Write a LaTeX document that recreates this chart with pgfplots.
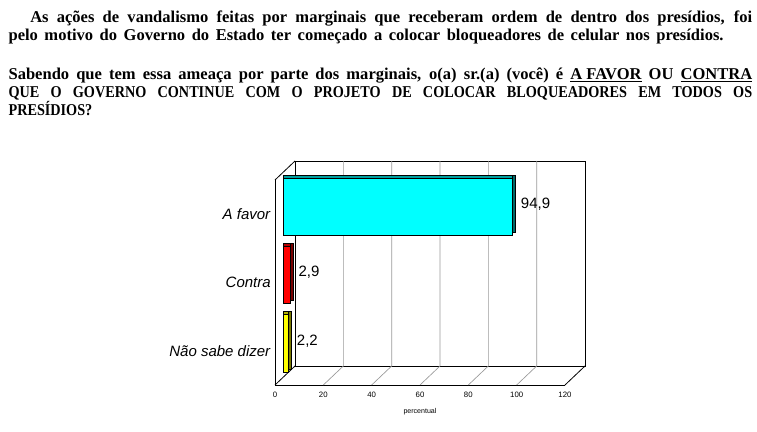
\documentclass[border=0pt]{standalone}
\usepackage{fontspec}
\setmainfont{Liberation Sans}[ItalicFont={Liberation Sans Italic}]
\newfontfamily\titlefont{Liberation Serif}
\usepackage{pgfplots}
\pgfplotsset{compat=1.18}

\definecolor{favorfront}{RGB}{0,255,255}
\definecolor{favortop}{RGB}{0,160,160}
\definecolor{favorside}{RGB}{0,105,105}
\definecolor{contrafront}{RGB}{255,0,0}
\definecolor{contratop}{RGB}{180,0,0}
\definecolor{contraside}{RGB}{120,0,0}
\definecolor{naofront}{RGB}{255,255,0}
\definecolor{naotop}{RGB}{175,175,0}
\definecolor{naoside}{RGB}{120,120,0}

% 1px = 0.75pt ; depth of the box 20px x 19px, bars sit 8px x 7.5px in
\tikzset{depth/.style={xshift=15pt, yshift=14.25pt}}

% one 3-D bar: value, category, front, top, side colour
\newcommand{\bardd}[5]{%
  \addplot[xbar, bar width=43.1pt, bar shift=0pt, fill=#5, draw=black,
    line width=0.5pt, xshift=8.25pt, yshift=7.875pt] coordinates {(#1,#2)};
  \addplot[xbar, bar width=43.1pt, bar shift=0pt, fill=#4, draw=black,
    line width=0.5pt, xshift=6pt, yshift=7.875pt] coordinates {(#1,#2)};
  \addplot[xbar, bar width=43.1pt, bar shift=0pt, fill=#3, draw=black,
    line width=0.5pt, xshift=6pt, yshift=5.625pt,
    point meta=x,
    nodes near coords={\pgfmathprintnumber[fixed, precision=1, use comma]{\pgfplotspointmeta}},
    nodes near coords style={anchor=west, inner sep=0pt, xshift=6.2pt,
      yshift=1.9pt, font=\fontsize{11.25}{13}\selectfont, text=black}]
    coordinates {(#1,#2)};
}
% caps of the question are set narrower, as in the original
\newcommand{\capsline}[2]{\scalebox{0.86}[1]{\makebox[#1][s]{#2}}}

\begin{document}
\begin{tikzpicture}[x=0.75pt, y=0.75pt]
\path[use as bounding box] (0,0) rectangle (757,432);

% question text
\begin{scope}[every node/.style={inner sep=0pt, anchor=base west,
    font=\titlefont\bfseries\fontsize{12.4}{13.5}\selectfont}]
\node at (30,432-22.7) {\makebox[541.5pt][s]{As ações de vandalismo feitas por marginais que receberam ordem de dentro dos presídios, foi}};
\node at (8.3,432-40.7) {\makebox[536.25pt][s]{pelo motivo do Governo do Estado ter começado a colocar bloqueadores de celular nos presídios.}};
\node at (8.3,432-79.3) {\makebox[557.75pt][s]{Sabendo que tem essa ameaça por parte dos marginais, o(a) sr.(a) (você) é \underline{A FAVOR} OU \underline{CONTRA}}};
\node at (8.3,432-97.3) {\capsline{648.5pt}{QUE O GOVERNO CONTINUE COM O PROJETO DE COLOCAR BLOQUEADORES EM TODOS OS}};
\node at (8.3,432-115.7) {\scalebox{0.86}[1]{PRESÍDIOS?}};
\end{scope}

\begin{axis}[
  at={(206.25pt,35.25pt)}, anchor=south west,
  scale only axis, width=217.5pt, height=153.75pt,
  xmin=0, xmax=120, ymin=0.5, ymax=3.5,
  clip=false,
  axis x line*=bottom, axis y line*=left,
  axis line style={-, line width=0.6pt},
  major tick length=0pt,
  xtick={0,20,...,120},
  ytick={1,2,3},
  yticklabels={\textit{Não sabe dizer}, \textit{Contra}, \textit{A favor}},
  /pgf/number format/assume math mode=true,
  xticklabel style={font=\fontsize{5.85}{7}\selectfont, anchor=center, yshift=-7.5pt},
  yticklabel style={font=\fontsize{11.25}{13}\selectfont, anchor=east,
    inner sep=0pt, xshift=-3pt},
  xlabel={percentual},
  xlabel style={font=\fontsize{5.3}{6}\selectfont, at={(axis description cs:0.5,0)},
    anchor=center, yshift=-20.25pt},
]
% walls of the box
\draw[line width=0.6pt] ([depth]axis cs:0,0.5) rectangle ([depth]axis cs:120,3.5);
\pgfplotsinvokeforeach{20,40,60,80,100}{
  \draw[gray!80, line width=0.5pt] (axis cs:#1,0.5) -- ([depth]axis cs:#1,0.5)
    -- ([depth]axis cs:#1,3.5);
}
\draw[line width=0.6pt] (axis cs:0,0.5) -- ([depth]axis cs:0,0.5);
\draw[line width=0.6pt] (axis cs:0,3.5) -- ([depth]axis cs:0,3.5);
\draw[line width=0.6pt] (axis cs:120,0.5) -- ([depth]axis cs:120,0.5);

\bardd{94.9}{3}{favorfront}{favortop}{favorside}
\bardd{2.9}{2}{contrafront}{contratop}{contraside}
\bardd{2.2}{1}{naofront}{naotop}{naoside}
\end{axis}
\end{tikzpicture}
\end{document}
